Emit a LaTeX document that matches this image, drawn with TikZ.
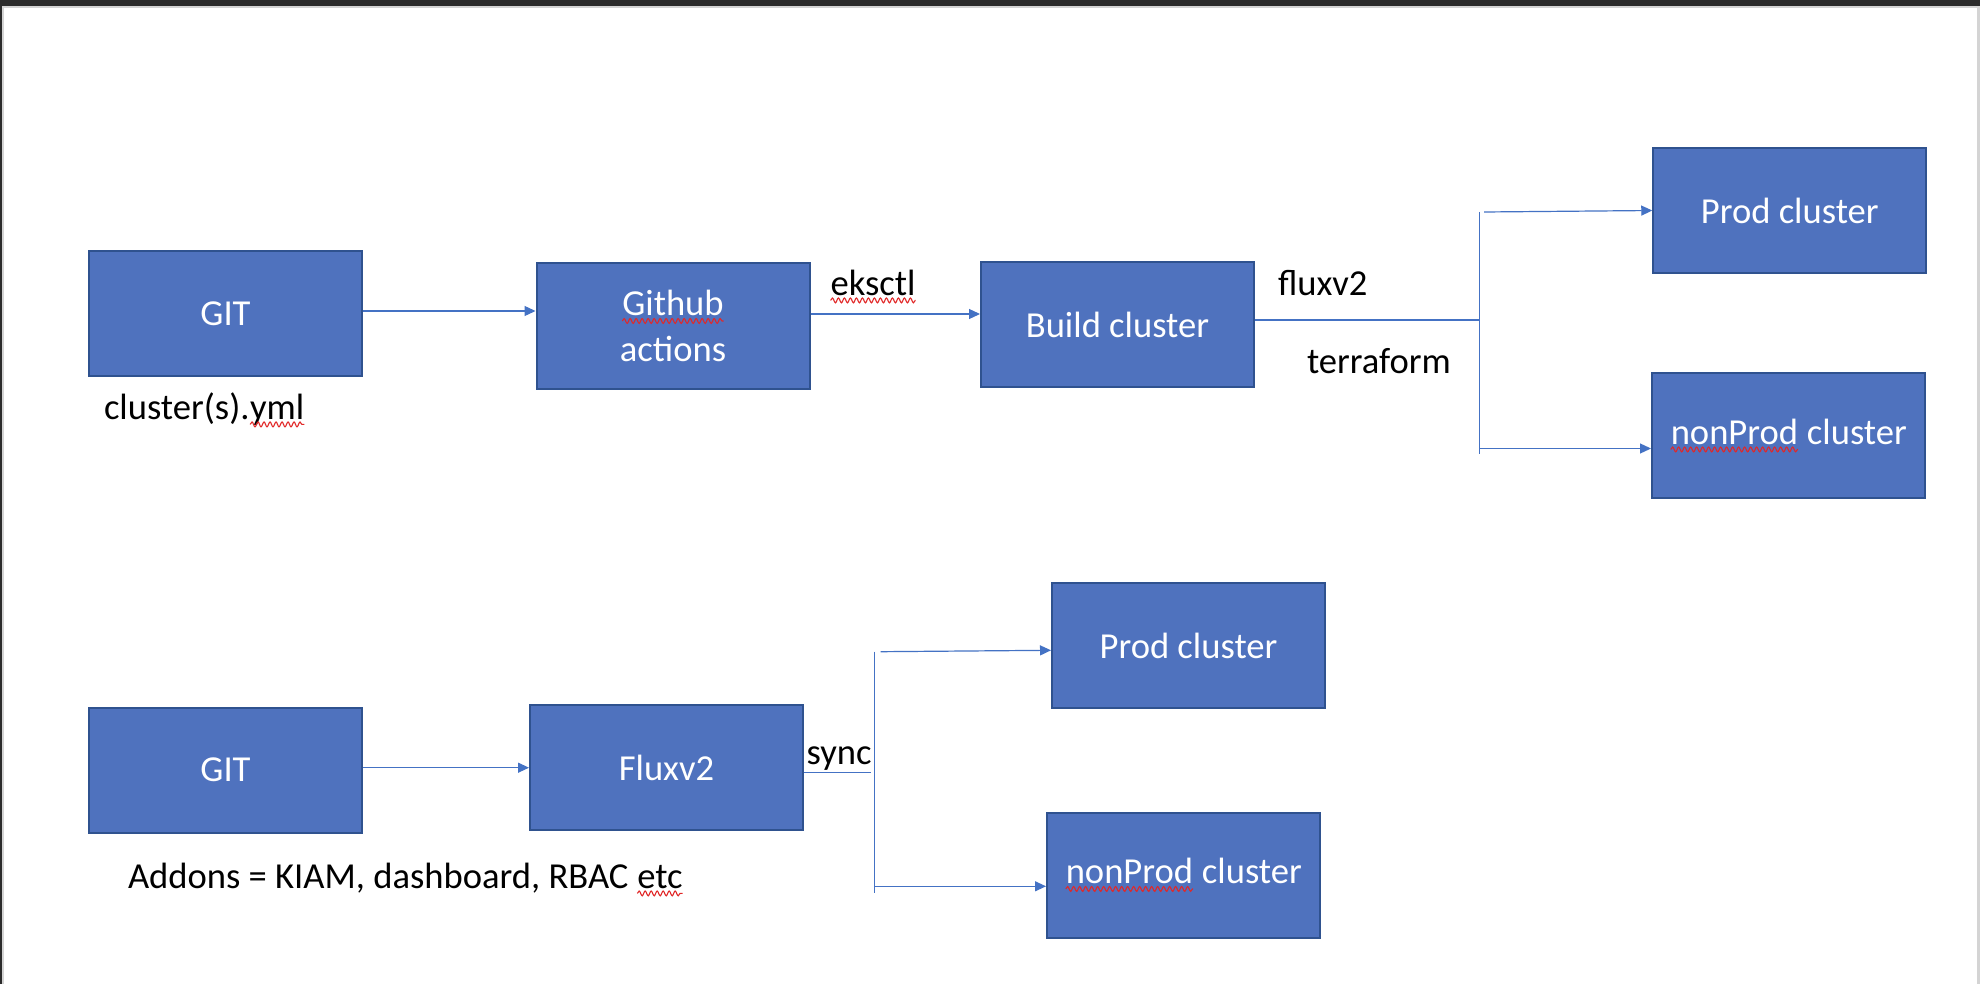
\documentclass[tikz,border=0pt]{standalone}
\usepackage{fontspec}
\setmainfont{Carlito}
\usetikzlibrary{arrows.meta,decorations.pathmorphing}
\definecolor{boxfill}{RGB}{79,114,190}
\definecolor{boxline}{RGB}{47,82,143}
\definecolor{conncol}{RGB}{68,114,196}
\definecolor{squigred}{RGB}{225,40,40}
\definecolor{bardark}{RGB}{43,43,43}
\definecolor{barlight}{RGB}{212,212,212}
\tikzset{
 plainnode/.style={draw=none,fill=none,inner sep=0pt,outer sep=0pt,minimum width=0pt,minimum height=0pt,shape=rectangle,anchor=base},
 squig/.style={draw=squigred,line width=0.55pt,decorate,decoration={snake,amplitude=1.2pt,segment length=3pt}},
 bluebox/.style={rectangle,draw=boxline,fill=boxfill,line width=1pt,minimum width=136.5pt,minimum height=62.5pt,text=white,font=\fontsize{18.3}{23}\selectfont,align=center,inner sep=0pt},
 lbl/.style={inner sep=0pt,outer sep=0pt,anchor=base west,font=\fontsize{18.3}{23}\selectfont,text=black},
 connline/.style={draw=conncol,line width=0.6pt},
 arr/.style={connline,-{Triangle[length=5.5pt,width=5pt]}},
}
\newcommand{\sq}[1]{\tikz[baseline=(sqw.base)]{\node[plainnode](sqw){#1};\draw[squig]([yshift=-2.7pt]sqw.base west)--([yshift=-2.7pt]sqw.base east);}}
\begin{document}
\begin{tikzpicture}[x=0.5pt,y=-0.5pt]
\useasboundingbox (0,0) rectangle (1980,984);
\fill[white] (0,0) rectangle (1980,984);
\fill[bardark] (0,0) rectangle (1980,6);
\fill[bardark] (0,0) rectangle (2,984);
\fill[barlight] (2,6) rectangle (1978,8);
\fill[barlight] (2,6) rectangle (4,984);
\fill[barlight] (1977,6) rectangle (1980,984);

\node[bluebox] (git1) at (225.5,313.5) {GIT};
\node[bluebox] (gha) at (673,326) {\sq{Github}\\actions};
\node[bluebox] (build) at (1117.5,324.5) {Build cluster};
\node[bluebox] (prod1) at (1789.75,210.5) {Prod cluster};
\node[bluebox] (np1) at (1788.5,435.5) {\sq{nonProd} cluster};
\node[bluebox] (git2) at (225.5,770) {GIT};
\node[bluebox] (flux) at (666.5,767.5) {Fluxv2};
\node[bluebox] (prod2) at (1188.5,645.5) {Prod cluster};
\node[bluebox] (np2) at (1183.5,875) {\sq{nonProd} cluster};

\node[lbl] (eks) at (830,295) {\sq{eksctl}};
\node[lbl] (fx) at (1278,295) {fluxv2};
\node[lbl] (tf) at (1307,373) {terraform};
\node[lbl] (cy) at (104,419) {cluster(s).\sq{yml}};
\node[lbl] (add) at (128,888) {Addons = KIAM, dashboard, RBAC \sq{etc}};
\node[lbl] (sy) at (806.7,764) {sync};

\coordinate (j1t) at (1479.5,212);
\coordinate (j1b) at (1479.5,454);
\coordinate (j2t) at (874.7,651.7);
\coordinate (j2b) at (874.7,893.3);
\coordinate (j2h) at (871,772.3);

\draw[arr] ([yshift=1.25pt]git1.east) -- ([yshift=1.25pt]git1.east -| gha.west);
\draw[arr] ([yshift=6pt]gha.east) -- ([yshift=6pt]gha.east -| build.west);
\draw[connline] ([yshift=2.25pt]build.east) -- ([yshift=2.25pt]build.east -| j1t);
\draw[connline] (j1t) -- (j1b);
\draw[arr] ([xshift=2.25pt]j1t) -- (prod1.west);
\draw[arr] ([yshift=-6.5pt]np1.west -| j1t) -- ([yshift=-6.5pt]np1.west);

\draw[arr] ([yshift=1.15pt]git2.east) -- ([yshift=1.15pt]git2.east -| flux.west);
\draw[connline] ([yshift=-2.4pt]flux.east) -- ([yshift=-2.4pt]flux.east -| j2h);
\draw[connline] (j2t) -- (j2b);
\draw[arr] ([xshift=3pt]j2t) -- ([yshift=-2.4pt]prod2.west);
\draw[arr] ([yshift=-5.65pt]np2.west -| j2t) -- ([yshift=-5.65pt]np2.west);
\end{tikzpicture}
\end{document}
